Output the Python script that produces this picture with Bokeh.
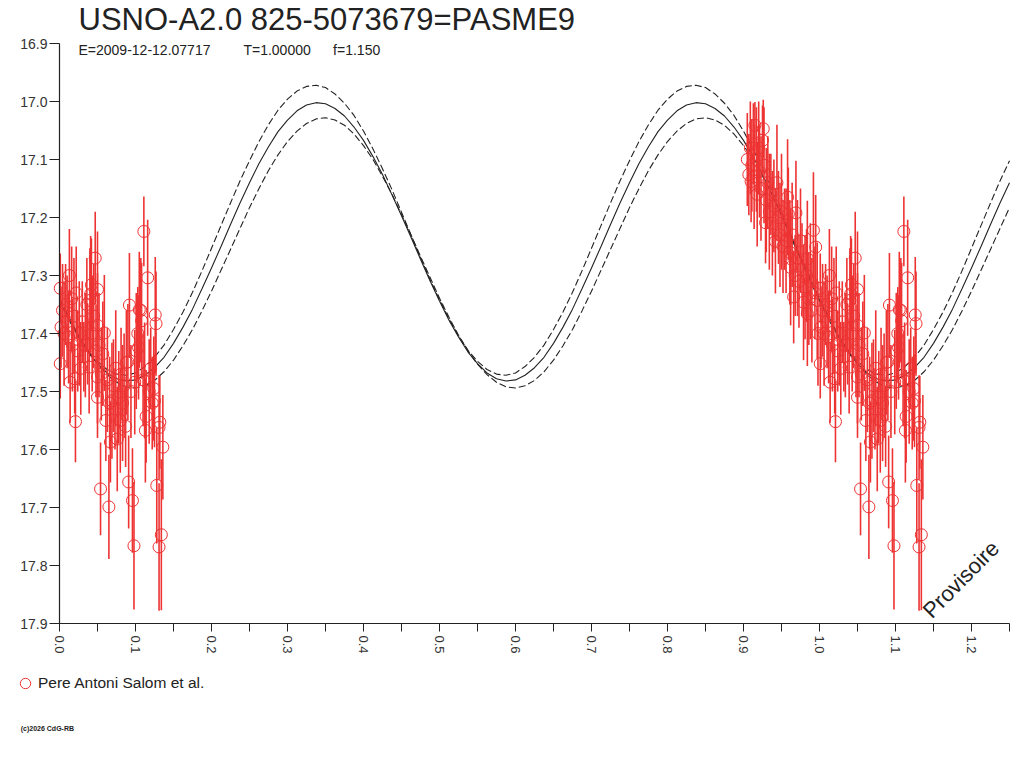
import math
from bokeh.plotting import figure
from bokeh.models import (Range1d, FixedTicker, PrintfTickFormatter, Label,
                          Legend, LegendItem, ColumnDataSource)
from bokeh.embed import file_html
from bokeh.resources import INLINE

# ---------------- texts ----------------
TITLE = "USNO-A2.0 825-5073679=PASME9"
EPOCH = "E=2009-12-12.07717"
PERIOD = "T=1.00000"
FREQ = "f=1.150"
OBSERVER = "Pere Antoni Salom et al."
STAMP = "(c)2026 CdG-RB"
WATERMARK = "Provisoire"

# ---------------- axes ----------------
x_ticks = [0.0, 0.1, 0.2, 0.3, 0.4, 0.5, 0.6, 0.7, 0.8, 0.9, 1.0, 1.1, 1.2]
x_minor_ticks = [0.05, 0.15, 0.25, 0.35, 0.45, 0.55, 0.65, 0.75, 0.85, 0.95,
                 1.05, 1.15, 1.25]
y_ticks = [16.9, 17.0, 17.1, 17.2, 17.3, 17.4, 17.5, 17.6, 17.7, 17.8, 17.9]
X_MIN, X_MAX = 0.0, 1.25
Y_TOP, Y_BOTTOM = 16.9, 17.9

# ---------------- model curve ----------------
model_phase = [
    0.0000, 0.0125, 0.0250, 0.0375, 0.0500, 0.0625, 0.0750, 0.0875, 0.1000, 0.1125,
    0.1250, 0.1375, 0.1500, 0.1625, 0.1750, 0.1875, 0.2000, 0.2125, 0.2250, 0.2375,
    0.2500, 0.2625, 0.2750, 0.2875, 0.3000, 0.3125, 0.3250, 0.3375, 0.3500, 0.3625,
    0.3750, 0.3875, 0.4000, 0.4125, 0.4250, 0.4375, 0.4500, 0.4625, 0.4750, 0.4875,
    0.5000, 0.5125, 0.5250, 0.5375, 0.5500, 0.5625, 0.5750, 0.5875, 0.6000, 0.6125,
    0.6250, 0.6375, 0.6500, 0.6625, 0.6750, 0.6875, 0.7000, 0.7125, 0.7250, 0.7375,
    0.7500, 0.7625, 0.7750, 0.7875, 0.8000, 0.8125, 0.8250, 0.8375, 0.8500, 0.8625,
    0.8750, 0.8875, 0.9000, 0.9125, 0.9250, 0.9375, 0.9500, 0.9625, 0.9750, 0.9875,
    1.0000, 1.0125, 1.0250, 1.0375, 1.0500, 1.0625, 1.0750, 1.0875, 1.1000, 1.1125,
    1.1250, 1.1375, 1.1500, 1.1625, 1.1750, 1.1875, 1.2000, 1.2125, 1.2250, 1.2375,
    1.2500]
model_mag = [
    17.344, 17.377, 17.406, 17.432, 17.452, 17.468, 17.478, 17.482, 17.480, 17.472,
    17.459, 17.441, 17.417, 17.389, 17.358, 17.323, 17.287, 17.250, 17.212, 17.175,
    17.140, 17.107, 17.078, 17.052, 17.032, 17.016, 17.006, 17.002, 17.004, 17.012,
    17.025, 17.044, 17.067, 17.095, 17.126, 17.161, 17.197, 17.234, 17.272, 17.309,
    17.344, 17.377, 17.406, 17.432, 17.452, 17.468, 17.478, 17.482, 17.480, 17.472,
    17.459, 17.441, 17.417, 17.389, 17.358, 17.323, 17.287, 17.250, 17.212, 17.175,
    17.140, 17.107, 17.078, 17.052, 17.032, 17.016, 17.006, 17.002, 17.004, 17.012,
    17.025, 17.044, 17.067, 17.095, 17.126, 17.161, 17.197, 17.234, 17.272, 17.309,
    17.344, 17.377, 17.406, 17.432, 17.452, 17.468, 17.478, 17.482, 17.480, 17.472,
    17.459, 17.441, 17.417, 17.389, 17.358, 17.323, 17.287, 17.250, 17.212, 17.175,
    17.140]
model_upper = [
    17.342, 17.375, 17.404, 17.429, 17.448, 17.462, 17.470, 17.472, 17.468, 17.457,
    17.441, 17.420, 17.393, 17.363, 17.329, 17.292, 17.253, 17.214, 17.175, 17.137,
    17.102, 17.069, 17.040, 17.015, 16.996, 16.982, 16.974, 16.972, 16.976, 16.987,
    17.003, 17.024, 17.051, 17.082, 17.116, 17.152, 17.191, 17.230, 17.269, 17.307,
    17.342, 17.375, 17.404, 17.429, 17.448, 17.462, 17.470, 17.472, 17.468, 17.457,
    17.441, 17.420, 17.393, 17.363, 17.329, 17.292, 17.253, 17.214, 17.175, 17.137,
    17.102, 17.069, 17.040, 17.015, 16.996, 16.982, 16.974, 16.972, 16.976, 16.987,
    17.003, 17.024, 17.051, 17.082, 17.116, 17.152, 17.191, 17.230, 17.269, 17.307,
    17.342, 17.375, 17.404, 17.429, 17.448, 17.462, 17.470, 17.472, 17.468, 17.457,
    17.441, 17.420, 17.393, 17.363, 17.329, 17.292, 17.253, 17.214, 17.175, 17.137,
    17.102]
model_lower = [
    17.339, 17.372, 17.403, 17.430, 17.453, 17.471, 17.484, 17.492, 17.494, 17.490,
    17.481, 17.466, 17.446, 17.421, 17.393, 17.361, 17.327, 17.291, 17.255, 17.219,
    17.183, 17.150, 17.119, 17.092, 17.069, 17.051, 17.038, 17.030, 17.028, 17.032,
    17.041, 17.056, 17.076, 17.100, 17.129, 17.160, 17.195, 17.230, 17.267, 17.303,
    17.339, 17.372, 17.403, 17.430, 17.453, 17.471, 17.484, 17.492, 17.494, 17.490,
    17.481, 17.466, 17.446, 17.421, 17.393, 17.361, 17.327, 17.291, 17.255, 17.219,
    17.183, 17.150, 17.119, 17.092, 17.069, 17.051, 17.038, 17.030, 17.028, 17.032,
    17.041, 17.056, 17.076, 17.100, 17.129, 17.160, 17.195, 17.230, 17.267, 17.303,
    17.339, 17.372, 17.403, 17.430, 17.453, 17.471, 17.484, 17.492, 17.494, 17.490,
    17.481, 17.466, 17.446, 17.421, 17.393, 17.361, 17.327, 17.291, 17.255, 17.219,
    17.183]

# ---------------- observations (phase, magnitude, error) ----------------
obs_phase = [
    0.001, 0.001, 0.002, 0.004, 0.006, 0.008, 0.010, 0.012, 0.013, 0.014,
    0.016, 0.017, 0.019, 0.020, 0.021, 0.022, 0.024, 0.026, 0.028, 0.030,
    0.032, 0.034, 0.036, 0.037, 0.039, 0.040, 0.041, 0.042, 0.043, 0.045,
    0.047, 0.048, 0.050, 0.050, 0.050, 0.050, 0.052, 0.054, 0.055, 0.057,
    0.059, 0.061, 0.063, 0.065, 0.066, 0.067, 0.069, 0.071, 0.073, 0.074,
    0.076, 0.078, 0.080, 0.081, 0.083, 0.085, 0.087, 0.088, 0.090, 0.091,
    0.092, 0.094, 0.096, 0.098, 0.099, 0.101, 0.103, 0.104, 0.105, 0.107,
    0.108, 0.110, 0.111, 0.112, 0.113, 0.114, 0.116, 0.118, 0.120, 0.122,
    0.124, 0.125, 0.126, 0.127, 0.128, 0.131, 0.131, 0.132, 0.134, 0.136,
    0.905, 0.907, 0.909, 0.910, 0.911, 0.913, 0.914, 0.915, 0.917, 0.918,
    0.920, 0.921, 0.923, 0.925, 0.926, 0.927, 0.929, 0.930, 0.932, 0.934,
    0.936, 0.938, 0.940, 0.942, 0.944, 0.946, 0.948, 0.950, 0.952, 0.954,
    0.956, 0.958, 0.959, 0.961, 0.962, 0.962, 0.964, 0.966, 0.968, 0.969,
    0.971, 0.973, 0.975, 0.977, 0.979, 0.981, 0.983, 0.984, 0.984, 0.986,
    0.988, 0.990, 0.992, 0.994, 0.995, 0.997, 0.998]
obs_mag = [
    17.322, 17.452, 17.389, 17.360, 17.400, 17.350, 17.380, 17.406, 17.300, 17.484,
    17.340, 17.420, 17.370, 17.478, 17.552, 17.330, 17.430, 17.400, 17.460, 17.380,
    17.440, 17.420, 17.350, 17.418, 17.458, 17.343, 17.332, 17.316, 17.400, 17.370,
    17.270, 17.430, 17.324, 17.386, 17.475, 17.510, 17.420, 17.668, 17.470, 17.435,
    17.399, 17.550, 17.480, 17.699, 17.520, 17.587, 17.516, 17.490, 17.530, 17.460,
    17.582, 17.510, 17.550, 17.470, 17.520, 17.490, 17.560, 17.450, 17.449, 17.656,
    17.351, 17.500, 17.688, 17.766, 17.484, 17.430, 17.400, 17.424, 17.359, 17.360,
    17.378, 17.480, 17.224, 17.481, 17.567, 17.543, 17.304, 17.500, 17.460, 17.520,
    17.495, 17.516, 17.368, 17.383, 17.662, 17.562, 17.768, 17.553, 17.747, 17.596,
    17.100, 17.126, 17.080, 17.138, 17.110, 17.073, 17.130, 17.041, 17.100, 17.160,
    17.080, 17.120, 17.150, 17.067, 17.047, 17.110, 17.209, 17.170, 17.140, 17.190,
    17.160, 17.210, 17.180, 17.241, 17.140, 17.200, 17.230, 17.190, 17.250, 17.220,
    17.240, 17.165, 17.194, 17.260, 17.271, 17.286, 17.230, 17.337, 17.300, 17.192,
    17.270, 17.310, 17.240, 17.290, 17.346, 17.320, 17.300, 17.271, 17.366, 17.340,
    17.310, 17.360, 17.222, 17.330, 17.251, 17.343, 17.400]
obs_err = [
    0.06, 0.06, 0.07, 0.08, 0.09, 0.07, 0.08, 0.08, 0.08, 0.07,
    0.09, 0.08, 0.10, 0.06, 0.07, 0.08, 0.07, 0.09, 0.08, 0.07,
    0.06, 0.09, 0.08, 0.07, 0.08, 0.09, 0.10, 0.08, 0.10, 0.09,
    0.08, 0.08, 0.10, 0.09, 0.08, 0.07, 0.09, 0.08, 0.08, 0.09,
    0.10, 0.07, 0.09, 0.09, 0.08, 0.07, 0.10, 0.08, 0.07, 0.10,
    0.09, 0.08, 0.09, 0.08, 0.10, 0.09, 0.07, 0.09, 0.10, 0.08,
    0.09, 0.08, 0.09, 0.11, 0.09, 0.10, 0.08, 0.09, 0.10, 0.09,
    0.10, 0.08, 0.06, 0.10, 0.09, 0.08, 0.10, 0.09, 0.07, 0.08,
    0.09, 0.08, 0.10, 0.09, 0.10, 0.09, 0.11, 0.08, 0.13, 0.09,
    0.08, 0.07, 0.08, 0.07, 0.08, 0.07, 0.09, 0.04, 0.09, 0.09,
    0.08, 0.08, 0.09, 0.06, 0.05, 0.10, 0.07, 0.09, 0.08, 0.10,
    0.07, 0.09, 0.08, 0.09, 0.10, 0.08, 0.09, 0.10, 0.08, 0.07,
    0.09, 0.10, 0.08, 0.09, 0.08, 0.10, 0.09, 0.08, 0.07, 0.09,
    0.10, 0.08, 0.09, 0.08, 0.10, 0.09, 0.08, 0.10, 0.09, 0.08,
    0.10, 0.09, 0.10, 0.08, 0.09, 0.10, 0.09]

RED = "#EE3333"
INK = "#222222"
FONT = "Liberation Sans"

# canvas geometry: the frame fills the whole canvas, axes sit at fixed data locations
W, H = 1016, 760
AX_LEFT_PX, AX_TOP_PX, PX_PER_X, PX_PER_MAG = 59, 43, 760.0, 580.0
view_x0 = X_MIN - AX_LEFT_PX / PX_PER_X
view_x1 = X_MIN + (W - AX_LEFT_PX) / PX_PER_X
view_y0 = Y_TOP - AX_TOP_PX / PX_PER_MAG
view_y1 = Y_TOP + (H - AX_TOP_PX) / PX_PER_MAG

# phases are shown over 1.25 cycles: each observation is repeated one cycle later
px, pm, plo, phi = [], [], [], []
for ph, m, e in zip(obs_phase, obs_mag, obs_err):
    for cycle in (0.0, 1.0):
        x = ph + cycle
        if X_MIN <= x <= X_MAX:
            px.append(x)
            pm.append(m)
            plo.append(m - e)
            phi.append(m + e)
obs_src = ColumnDataSource(dict(x=px, mag=pm, lo=plo, hi=phi))
model_src = ColumnDataSource(dict(x=model_phase, mag=model_mag,
                                  up=model_upper, low=model_lower))

p = figure(width=W, height=H, output_backend="svg", toolbar_location=None,
           x_range=Range1d(view_x0, view_x1), y_range=Range1d(view_y1, view_y0),
           min_border=0)
p.outline_line_color = None
p.grid.visible = False
p.background_fill_color = "white"
p.border_fill_color = "white"

# model curves
p.line("x", "up", source=model_src, line_color=INK, line_width=1.1, line_dash="7 3")
p.line("x", "low", source=model_src, line_color=INK, line_width=1.1, line_dash="7 3")
p.line("x", "mag", source=model_src, line_color=INK, line_width=1.1)

# observations
p.segment(x0="x", y0="lo", x1="x", y1="hi", source=obs_src,
          line_color=RED, line_width=1.6)
obs_r = p.scatter("x", "mag", source=obs_src, marker="circle", size=12,
                  fill_color=None, line_color=RED, line_width=1)

# axes
xa = p.xaxis[0]
xa.fixed_location = Y_BOTTOM
xa.bounds = (X_MIN, X_MAX)
xa.ticker = FixedTicker(ticks=x_ticks, minor_ticks=x_minor_ticks)
xa.formatter = PrintfTickFormatter(format="%.1f")
xa.major_label_orientation = -math.pi / 2
xa.major_tick_in = 0
xa.major_tick_out = 8
xa.minor_tick_in = 0
xa.minor_tick_out = 8
xa.major_label_standoff = 4
ya = p.yaxis[0]
ya.fixed_location = X_MIN
ya.bounds = (Y_TOP, Y_BOTTOM)
ya.ticker = FixedTicker(ticks=y_ticks)
ya.formatter = PrintfTickFormatter(format="%.1f")
ya.major_tick_in = 0
ya.major_tick_out = 10
ya.minor_tick_in = 0
ya.minor_tick_out = 0
ya.major_label_standoff = 2
for ax in (xa, ya):
    ax.axis_line_color = INK
    ax.axis_line_width = 1.2
    ax.major_tick_line_color = INK
    ax.minor_tick_line_color = INK
    ax.major_label_text_color = "#333333"
    ax.major_label_text_font = FONT
xa.major_label_text_font_size = "13px"
ya.major_label_text_font_size = "14px"

# titles and annotations
p.add_layout(Label(x=0.025, y=16.859, text=TITLE, text_font=FONT,
                   text_font_size="31px", text_color=INK,
                   text_baseline="alphabetic"))
p.add_layout(Label(x=0.025, y=16.898, text=EPOCH, text_font=FONT,
                   text_font_size="14px", text_color=INK, text_baseline="top"))
p.add_layout(Label(x=0.242, y=16.898, text=PERIOD, text_font=FONT,
                   text_font_size="14px", text_color=INK, text_baseline="top"))
p.add_layout(Label(x=0.360, y=16.898, text=FREQ, text_font=FONT,
                   text_font_size="14px", text_color=INK, text_baseline="top"))
p.add_layout(Label(x=1.141, y=17.884, text=WATERMARK, text_font=FONT,
                   text_font_size="22px", text_color=INK, angle=45.5,
                   angle_units="deg", text_baseline="alphabetic"))
p.add_layout(Label(x=-0.051, y=18.081, text=STAMP, text_font=FONT,
                   text_font_size="7px", text_font_style="bold", text_color=INK,
                   text_baseline="alphabetic"))

legend = Legend(items=[LegendItem(label=OBSERVER, renderers=[obs_r])],
                location=(12, 64), orientation="vertical",
                background_fill_alpha=0, border_line_color=None,
                padding=0, margin=0, spacing=0,
                glyph_width=26, glyph_height=26, label_height=26,
                label_standoff=-2, label_text_font=FONT,
                label_text_font_size="15.5px", label_text_color=INK)
p.add_layout(legend, "center")

open("out.html", "w").write(file_html(p, INLINE))
